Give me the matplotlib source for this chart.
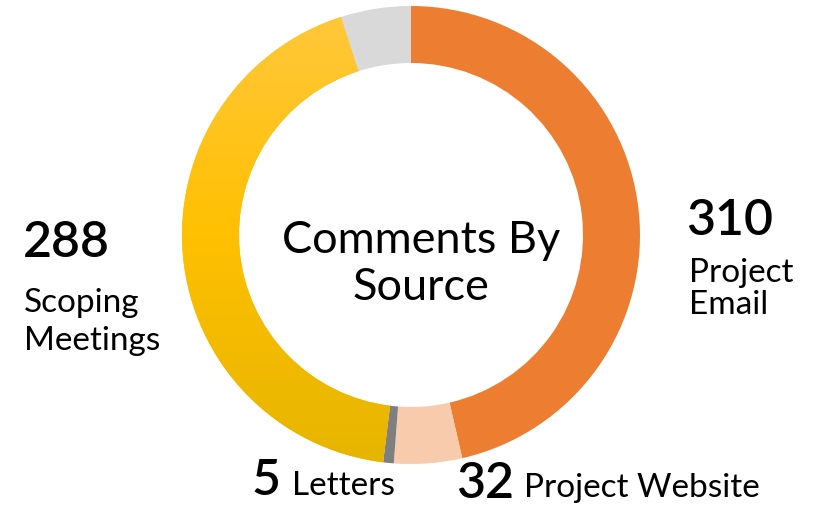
import matplotlib
matplotlib.use("Agg")
import matplotlib.pyplot as plt
import numpy as np
from matplotlib.colors import LinearSegmentedColormap

# data (clockwise from 12 o'clock)
sources = ["Project Email", "Project Website", "Letters", "Scoping Meetings", "Other"]
counts = [310, 32, 5, 288, 33]
colors = ["#ED7D31", "#F8CBAD", "#7F7F7F", "#FFC000", "#D9D9D9"]

W, H = 813, 506
plt.rcParams["font.family"] = ["Lato", "DejaVu Sans"]

fig = plt.figure(figsize=(W / 100, H / 100), dpi=100)
ax = fig.add_axes([0, 0, 1, 1])

cx, cy, r_out, r_in = 411, H - 236, 229, 172
wedges, _ = ax.pie(counts, colors=colors, startangle=90, counterclock=False,
                   center=(cx, cy), radius=r_out, frame=True,
                   wedgeprops=dict(width=r_out - r_in, linewidth=0))

# vertical gradient on the scoping segment
grad = LinearSegmentedColormap.from_list("yel", ["#FFC83E", "#FFC000", "#E6B500"])
g = np.linspace(0, 1, 256).reshape(-1, 1)
img = ax.imshow(g, cmap=grad, aspect="auto", origin="upper",
                extent=(cx - r_out, cx + r_out, cy - r_out, cy + r_out), zorder=3)
img.set_clip_path(wedges[3])

ax.set_xlim(0, W)
ax.set_ylim(0, H)
ax.set_aspect("equal")
ax.axis("off")


def txt(x, y, s, size, **kw):
    ax.text(x, H - y, s, fontsize=size, va="baseline", color="black", **kw)


# centre title
txt(421, 253, "Comments By", 32.5, ha="center")
txt(421, 300, "Source", 32.5, ha="center")

num_size = 36
lab_size = 24
num_w = "semibold"

txt(686, 235, "310", num_size, weight=num_w)
txt(689, 282, "Project", lab_size)
txt(689, 314, "Email", lab_size)

txt(23, 257, "288", num_size, weight=num_w)
txt(24, 312, "Scoping", lab_size)
txt(24, 350, "Meetings", lab_size)

txt(251, 495, "5", num_size, weight=num_w)
txt(292, 495, "Letters", lab_size)

txt(456, 498, "32", num_size, weight=num_w)
txt(524, 497, "Project Website", lab_size)

fig.savefig("out.png", dpi=100)
